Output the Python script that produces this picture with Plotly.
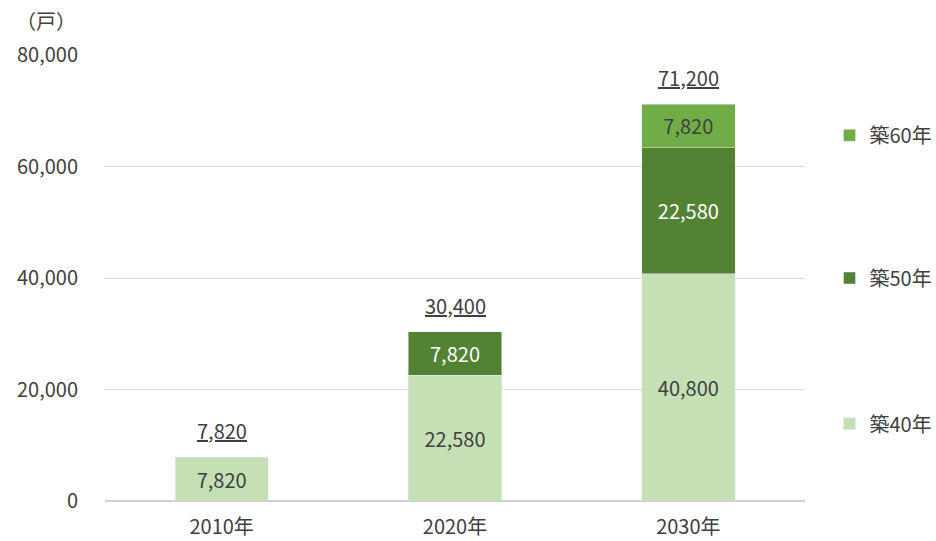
import plotly.graph_objects as go

categories = ["2010年", "2020年", "2030年"]
s40 = [7820, 22580, 40800]
s50 = [None, 7820, 22580]
s60 = [None, None, 7820]
totals = [7820, 30400, 71200]
y_ticks = [0, 20000, 40000, 60000, 80000]
y_tick_labels = ["0", "20,000", "40,000", "60,000", "80,000"]

FONT = "Noto Sans CJK JP"
TXT = "#404040"
FS = 20

def lbl(v):
    return [("" if x is None else f"{x:,}") for x in v]

fig = go.Figure()
fig.add_bar(x=categories, y=s40, name="築40年", marker_color="#C5E0B4",
            text=lbl(s40), textposition="inside", insidetextanchor="middle",
            textfont=dict(color=TXT, size=FS, family=FONT), legend="legend3")
fig.add_bar(x=categories, y=s50, name="築50年", marker_color="#548235",
            text=lbl(s50), textposition="inside", insidetextanchor="middle",
            textfont=dict(color="white", size=FS, family=FONT), legend="legend2")
fig.add_bar(x=categories, y=s60, name="築60年", marker_color="#70AD47",
            text=lbl(s60), textposition="inside", insidetextanchor="middle",
            textfont=dict(color=TXT, size=FS, family=FONT), legend="legend")

for c, t in zip(categories, totals):
    fig.add_annotation(x=c, y=t, text=f"<u>{t:,}</u>", showarrow=False,
                       yanchor="bottom", yshift=10,
                       font=dict(size=FS, color=TXT, family=FONT))

fig.add_annotation(xref="paper", yref="paper", x=-0.13, y=1.04, text="（戸）",
                   showarrow=False, xanchor="left", yanchor="bottom",
                   font=dict(size=FS, color=TXT, family=FONT))

leg_common = dict(xref="paper", yref="paper", xanchor="left", yanchor="middle",
                  bgcolor="rgba(0,0,0,0)", font=dict(size=FS, color=TXT, family=FONT))
fig.update_layout(
    barmode="stack",
    bargap=0.6,
    width=936, height=541,
    margin=dict(l=105, r=131, t=55, b=40, autoexpand=False),
    plot_bgcolor="white", paper_bgcolor="white",
    font=dict(family=FONT, size=FS, color=TXT),
    showlegend=True,
    legend=dict(x=1.035, y=0.82, **leg_common),
    legend2=dict(x=1.035, y=0.50, **leg_common),
    legend3=dict(x=1.035, y=0.173, **leg_common),
)
fig.update_yaxes(range=[0, 80000], tickvals=y_ticks, ticktext=y_tick_labels,
                 showgrid=True, gridcolor="#D9D9D9", gridwidth=1,
                 zeroline=True, zerolinecolor="#D0D0D0", zerolinewidth=1.5,
                 ticks="", ticklabelstandoff=26, automargin=False,
                 tickfont=dict(size=FS, color=TXT, family=FONT))
fig.update_xaxes(showline=False, ticks="", automargin=False, ticklabelstandoff=12,
                 tickfont=dict(size=FS, color=TXT, family=FONT))

fig.write_html("out.html", config={"displayModeBar": False},
               post_script="document.body.style.margin='0';document.body.style.overflow='hidden';")
